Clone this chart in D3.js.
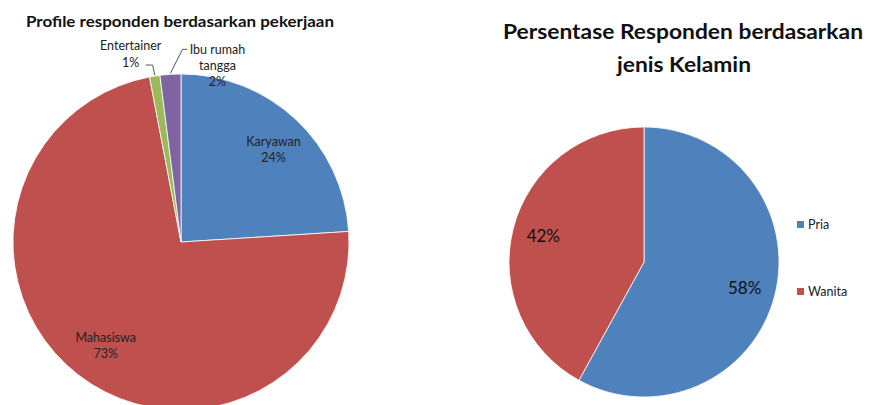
<!doctype html>
<html>
<head>
<meta charset="utf-8"/>
<title>Profil responden</title>
<script src="https://d3js.org/d3.v7.min.js"></script>
<style>
body { margin: 0; background: #fff; }
text { font-family: Lato, "Open Sans", sans-serif; }
</style>
</head>
<body>
<svg id="svg1" width="869" height="405"></svg>
<script>
// data: pekerjaan
const jobs = ['Karyawan', 'Mahasiswa', 'Entertainer', 'Ibu rumah tangga'];
const jobValues = [24, 73, 1, 2];
const jobColors = ['#4f81bd', '#c0504d', '#9bbb59', '#8064a2'];

// data: jenis kelamin
const genders = ['Pria', 'Wanita'];
const genderValues = [58, 42];
const genderColors = ['#4f81bd', '#c0504d'];

const svg = d3.select('#svg1');
svg.append('rect').attr('width', 869).attr('height', 405).attr('fill', '#fff');

function pieData(names, values) {
    return d3.pie().sort(null).value(d => d.v)(names.map((n, i) => ({name: n, v: values[i], i: i})));
}

// ---- left chart ----
const left = svg.append('g').attr('transform', 'translate(181,242)');
const r1 = 168;
const arc1 = d3.arc().innerRadius(0).outerRadius(r1);
const lab1 = d3.arc().innerRadius(r1 * 0.77).outerRadius(r1 * 0.77);
const pie1 = pieData(jobs, jobValues);

left.selectAll('path').data(pie1).enter().append('path')
    .attr('d', arc1)
    .attr('fill', d => jobColors[d.data.i])
    .attr('stroke', '#fff')
    .attr('stroke-width', 0.8);

// inside labels for the big slices
pie1.filter(d => d.data.v > 10).forEach(d => {
    let c = lab1.centroid(d);
    let t = left.append('text').attr('text-anchor', 'middle')
        .attr('font-size', 12.5).attr('fill', '#222');
    t.append('tspan').attr('x', c[0] + 4).attr('y', c[1] - 2).text(d.data.name);
    t.append('tspan').attr('x', c[0] + 4).attr('y', c[1] + 14).text(d.data.v + '%');
});

// outside labels for the small slices
const outer = d3.arc().innerRadius(r1).outerRadius(r1);
const small = pie1.filter(d => d.data.v <= 10);
// Entertainer
{
    let d = small[0];
    let p = outer.centroid(d);
    left.append('path')
        .attr('d', `M${p[0]},${p[1] - 1}L${p[0] - 2},${p[1] - 11}L${p[0] - 9},${p[1] - 11}`)
        .attr('fill', 'none').attr('stroke', '#555').attr('stroke-width', 1);
    let t = left.append('text').attr('text-anchor', 'middle')
        .attr('font-size', 12.5).attr('fill', '#222');
    t.append('tspan').attr('x', p[0] - 24).attr('y', p[1] - 26).text(d.data.name);
    t.append('tspan').attr('x', p[0] - 24).attr('y', p[1] - 9).text(d.data.v + '%');
}
// Ibu rumah tangga
{
    let d = small[1];
    let p = outer.centroid(d);
    left.append('path')
        .attr('d', `M${p[0]},${p[1] - 1}L${p[0] + 12},${p[1] - 25}L${p[0] + 17},${p[1] - 25}`)
        .attr('fill', 'none').attr('stroke', '#555').attr('stroke-width', 1);
    let words = ['Ibu rumah', 'tangga', d.data.v + '%'];
    let t = left.append('text').attr('text-anchor', 'middle')
        .attr('font-size', 12.5).attr('fill', '#222');
    words.forEach((w, k) => {
        t.append('tspan').attr('x', p[0] + 47).attr('y', p[1] - 20 + k * 16).text(w);
    });
}

svg.append('text')
    .attr('x', 180).attr('y', 27)
    .attr('text-anchor', 'middle')
    .attr('font-size', 15).attr('font-weight', 'bold').attr('fill', '#111')
    .attr('textLength', 308).attr('lengthAdjust', 'spacingAndGlyphs')
    .text('Profile responden berdasarkan pekerjaan');

// ---- right chart ----
const right = svg.append('g').attr('transform', 'translate(644,262)');
const r2 = 135;
const arc2 = d3.arc().innerRadius(0).outerRadius(r2);
const lab2 = d3.arc().innerRadius(r2 * 0.77).outerRadius(r2 * 0.77);
const pie2 = pieData(genders, genderValues);

right.selectAll('path').data(pie2).enter().append('path')
    .attr('d', arc2)
    .attr('fill', d => genderColors[d.data.i])
    .attr('stroke', '#fff')
    .attr('stroke-width', 0.8);

right.selectAll('text.val').data(pie2).enter().append('text')
    .attr('class', 'val')
    .attr('x', d => lab2.centroid(d)[0])
    .attr('y', d => lab2.centroid(d)[1] + 6)
    .attr('text-anchor', 'middle')
    .attr('font-size', 17).attr('fill', '#111')
    .text(d => d.data.v + '%');

const legend = svg.append('g').attr('transform', 'translate(797,225)');
genders.forEach((g, i) => {
    let row = legend.append('g').attr('transform', `translate(0,${i * 67})`);
    row.append('rect').attr('x', 0).attr('y', -4).attr('width', 7).attr('height', 7)
        .attr('fill', genderColors[i]);
    row.append('text').attr('x', 11).attr('y', 4)
        .attr('font-size', 12.5).attr('fill', '#222').text(g);
});

const t2 = svg.append('g').attr('font-size', 21).attr('font-weight', 'bold').attr('fill', '#111');
t2.append('text').attr('x', 683).attr('y', 39).attr('text-anchor', 'middle')
    .attr('textLength', 360).attr('lengthAdjust', 'spacingAndGlyphs')
    .text('Persentase Responden berdasarkan');
t2.append('text').attr('x', 684).attr('y', 72).attr('text-anchor', 'middle')
    .attr('textLength', 134).attr('lengthAdjust', 'spacingAndGlyphs')
    .text('jenis Kelamin');
</script>
</body>
</html>
